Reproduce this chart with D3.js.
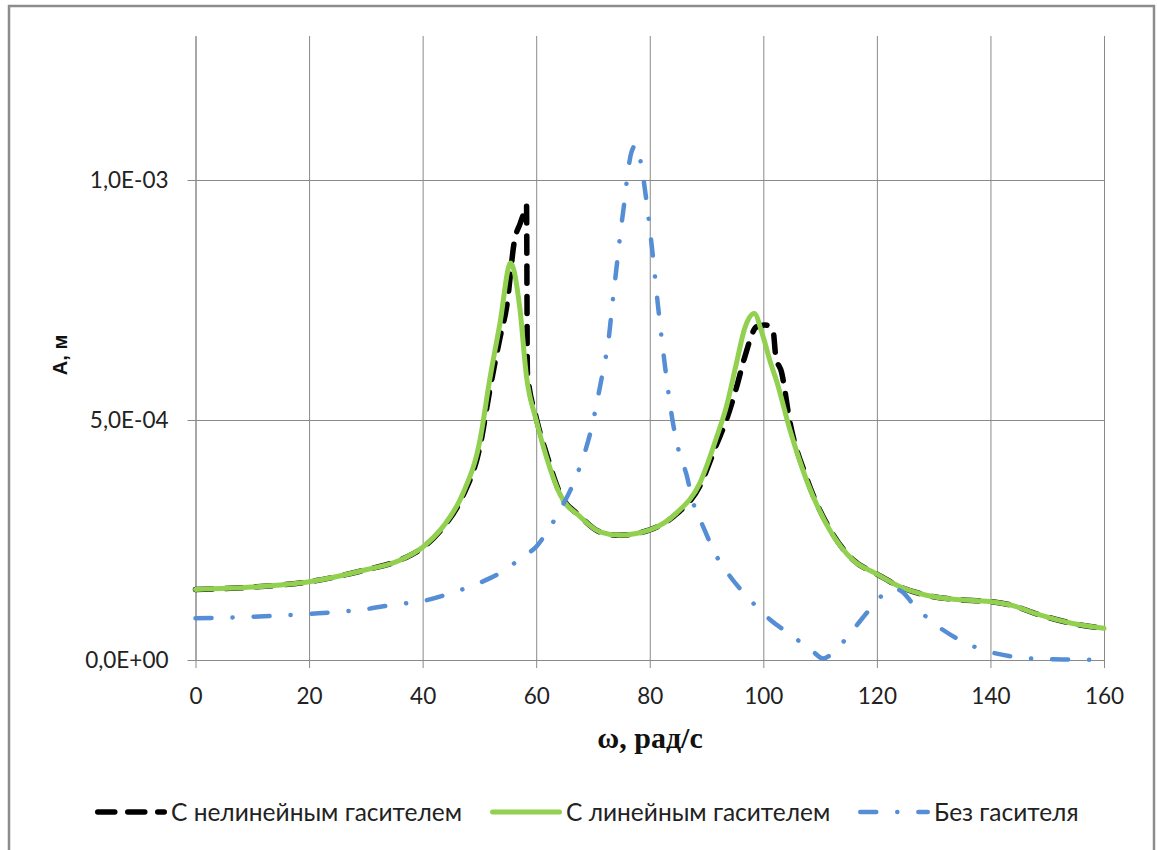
<!DOCTYPE html>
<html lang="ru">
<head>
    <meta charset="UTF-8">
    <title>A(ω)</title>
    <script src="https://d3js.org/d3.v7.min.js"></script>
    <style>
        body, html {
          margin: 0;
          padding: 0;
          width: 100%;
          height: 100%;
          overflow: hidden;
          background: #fff;
        }
        svg { display: block; }
        .tick text {
          font-family: Lato, "Liberation Sans", sans-serif;
          font-size: 22.5px;
          fill: #222;
        }
        .legend text {
          font-family: Lato, "Liberation Sans", sans-serif;
          font-size: 24.5px;
          fill: #222;
        }
    </style>
</head>
<body>
<svg></svg>
<script>
    // --- data (A in metres) ---
    const xTicks = [0, 20, 40, 60, 80, 100, 120, 140, 160];
    const yTicks = [0, 5e-4, 1e-3];

    const wNonlin = [0, 10, 20, 30, 36, 40, 43.6, 47.1, 50.1, 51.8, 53.6, 54.8, 56.2, 57.2, 58.0, 58.3, 58.45, 60, 61.8, 64.2, 67.7, 71.2, 74.7, 80, 84.7, 88.8, 91.8, 93.5, 95.3, 96.7, 98.8, 100.3, 101.7, 102.2, 103.2, 104.7, 107.6, 111.7, 115.8, 120, 124, 128.7, 134, 139.9, 143.4, 148.7, 154.5, 160];
    const aNonlin = [1.47e-4, 1.52e-4, 1.63e-4, 1.88e-4, 2.08e-4, 2.34e-4, 2.76e-4, 3.42e-4, 4.45e-4, 5.6e-4, 6.7e-4, 7.36e-4, 8.75e-4, 9.1e-4, 9.37e-4, 9.48e-4, 6.0e-4, 5.05e-4, 4.3e-4, 3.47e-4, 3.0e-4, 2.67e-4, 2.6e-4, 2.71e-4, 3.04e-4, 3.62e-4, 4.5e-4, 5.0e-4, 5.69e-4, 6.3e-4, 6.94e-4, 6.98e-4, 6.88e-4, 6.32e-4, 6.0e-4, 4.95e-4, 3.8e-4, 2.73e-4, 2.09e-4, 1.79e-4, 1.53e-4, 1.35e-4, 1.26e-4, 1.22e-4, 1.15e-4, 0.94e-4, 0.76e-4, 0.66e-4];

    const wLin = [0, 10, 20, 30, 36, 40, 43.6, 47.1, 50.1, 51.8, 53.6, 55.5, 57.1, 58.3, 60, 61.8, 64.2, 67.7, 71.2, 74.7, 80, 84.7, 88.8, 91.8, 93.5, 95.3, 96.7, 98.4, 99.8, 101.3, 102.3, 104.7, 107.6, 111.7, 115.8, 120, 124, 128.7, 134, 139.9, 143.4, 148.7, 154.5, 160];
    const aLin = [1.47e-4, 1.52e-4, 1.63e-4, 1.88e-4, 2.08e-4, 2.35e-4, 2.78e-4, 3.47e-4, 4.58e-4, 5.83e-4, 7.0e-4, 8.27e-4, 7.35e-4, 5.9e-4, 5.0e-4, 4.23e-4, 3.45e-4, 2.99e-4, 2.67e-4, 2.6e-4, 2.71e-4, 3.06e-4, 3.68e-4, 4.65e-4, 5.28e-4, 6.2e-4, 6.9e-4, 7.22e-4, 6.8e-4, 6.18e-4, 5.83e-4, 4.79e-4, 3.75e-4, 2.71e-4, 2.08e-4, 1.79e-4, 1.53e-4, 1.35e-4, 1.26e-4, 1.22e-4, 1.15e-4, 0.94e-4, 0.76e-4, 0.66e-4];

    const wFree = [0, 10, 20, 30, 34.8, 40.1, 45.4, 50.1, 54.7, 57.6, 60, 61.8, 63.9, 66.8, 68.6, 69.8, 70.9, 71.8, 72.7, 73.5, 74.3, 74.9, 75.5, 76.1, 76.8, 77.6, 78.6, 79.4, 80.5, 81.5, 82.7, 84.1, 85, 86.5, 87.6, 89.4, 91.5, 94.1, 97.3, 101.1, 104.9, 108.8, 110.5, 112.6, 115.8, 119, 121.7, 123.2, 124.5, 126.4, 129.9, 135.2, 138.7, 144, 148.7, 153.4, 160];
    const aFree = [0.87e-4, 0.9e-4, 0.96e-4, 1.06e-4, 1.15e-4, 1.23e-4, 1.41e-4, 1.61e-4, 1.89e-4, 2.15e-4, 2.36e-4, 2.65e-4, 3.06e-4, 3.75e-4, 4.34e-4, 4.86e-4, 5.49e-4, 6.04e-4, 6.63e-4, 7.5e-4, 8.33e-4, 8.96e-4, 9.51e-4, 10.12e-4, 10.59e-4, 10.73e-4, 10.24e-4, 9.58e-4, 8.47e-4, 7.33e-4, 6.11e-4, 4.93e-4, 4.41e-4, 3.85e-4, 3.3e-4, 2.78e-4, 2.22e-4, 1.75e-4, 1.3e-4, 0.85e-4, 0.52e-4, 0.17e-4, 0.03e-4, 0.19e-4, 0.63e-4, 1.09e-4, 1.42e-4, 1.48e-4, 1.42e-4, 1.16e-4, 0.78e-4, 0.38e-4, 0.21e-4, 0.07e-4, 0.02e-4, 0.01e-4, 0];

    const seriesNames = ["С нелинейным гасителем", "С линейным гасителем", "Без гасителя"];

    const series = [
      {name: seriesNames[0], w: wNonlin, a: aNonlin, color: "#000", width: 5.5, dash: "17,13"},
      {name: seriesNames[1], w: wLin, a: aLin, color: "#92D050", width: 5, dash: null},
      {name: seriesNames[2], w: wFree, a: aFree, color: "#558ED5", width: 4.5, dash: "16,21,0.1,21"}
    ];

    const width = 1157, height = 850;
    const margin = {top: 36, left: 195.5, right: 1104, bottom: 660};
    const gridColor = "#8a8a8a";

    const svg = d3.select("svg")
      .attr("width", width)
      .attr("height", height);

    // outer chart frame
    svg.append("rect")
      .attr("x", 9).attr("y", 6)
      .attr("width", 1145).attr("height", 870)
      .attr("fill", "#fff")
      .attr("stroke", "#8c8c8c")
      .attr("stroke-width", 2.5);

    const x = d3.scaleLinear().domain([0, 160]).range([margin.left, margin.right]);
    const y = d3.scaleLinear().domain([0, 1.3e-3]).range([margin.bottom, margin.top]);

    const fmtSci = d => {
      if (d === 0) return "0,0E+00";
      const [m, e] = d.toExponential(1).split("e");
      const n = +e;
      return m.replace(".", ",") + "E" + (n < 0 ? "-" : "+") + String(Math.abs(n)).padStart(2, "0");
    };

    // gridlines
    svg.append("g")
      .attr("transform", `translate(0,${margin.bottom})`)
      .call(d3.axisBottom(x).tickValues(xTicks).tickSize(-(margin.bottom - margin.top)).tickFormat(""))
      .call(g => g.select(".domain").remove())
      .call(g => g.selectAll("line").attr("stroke", gridColor));

    svg.append("g")
      .attr("transform", `translate(${margin.left},0)`)
      .call(d3.axisLeft(y).tickValues(yTicks).tickSize(-(margin.right - margin.left)).tickFormat(""))
      .call(g => g.select(".domain").remove())
      .call(g => g.selectAll("line").attr("stroke", gridColor));

    // axes
    svg.append("g")
      .attr("transform", `translate(0,${margin.bottom})`)
      .call(d3.axisBottom(x).tickValues(xTicks).tickSize(8).tickPadding(20).tickSizeOuter(0))
      .call(g => g.select(".domain").attr("stroke", gridColor))
      .call(g => g.selectAll("line").attr("stroke", gridColor));

    svg.append("g")
      .attr("transform", `translate(${margin.left},0)`)
      .call(d3.axisLeft(y).tickValues(yTicks).tickSize(8).tickPadding(19).tickSizeOuter(0).tickFormat(fmtSci))
      .call(g => g.select(".domain").attr("stroke", gridColor))
      .call(g => g.selectAll("line").attr("stroke", gridColor));

    // axis titles
    svg.append("text")
      .attr("x", 650).attr("y", 748)
      .attr("text-anchor", "middle")
      .attr("font-family", "'Liberation Serif', 'Times New Roman', serif")
      .attr("font-weight", "bold")
      .attr("font-size", 30)
      .attr("fill", "#111")
      .text("ω, рад/с");

    svg.append("text")
      .attr("transform", "translate(67,355) rotate(-90)")
      .attr("text-anchor", "middle")
      .attr("font-family", "'Liberation Sans', Arial, sans-serif")
      .attr("font-weight", "bold")
      .attr("font-size", 20)
      .attr("fill", "#111")
      .text("А, м");

    // curves
    const line = d3.line()
      .x(d => x(d[0]))
      .y(d => y(d[1]))
      .curve(d3.curveMonotoneX);

    series.forEach(s => {
      svg.append("path")
        .datum(s.w.map((w, i) => [w, s.a[i]]))
        .attr("fill", "none")
        .attr("stroke", s.color)
        .attr("stroke-width", s.width)
        .attr("stroke-linecap", "round")
        .attr("stroke-linejoin", "round")
        .attr("stroke-dasharray", s.dash)
        .attr("d", line);
    });

    // legend
    const legendPos = [95, 490, 858];
    const legend = svg.append("g").attr("class", "legend");
    series.forEach((s, i) => {
      const lx = legendPos[i];
      legend.append("line")
        .attr("x1", lx + s.width / 2).attr("x2", lx + 72 - s.width / 2)
        .attr("y1", 812).attr("y2", 812)
        .attr("stroke", s.color)
        .attr("stroke-width", s.width)
        .attr("stroke-linecap", "round")
        .attr("stroke-dasharray", s.dash);
      legend.append("text")
        .attr("x", lx + 76).attr("y", 821)
        .text(s.name);
    });
</script>
</body>
</html>
